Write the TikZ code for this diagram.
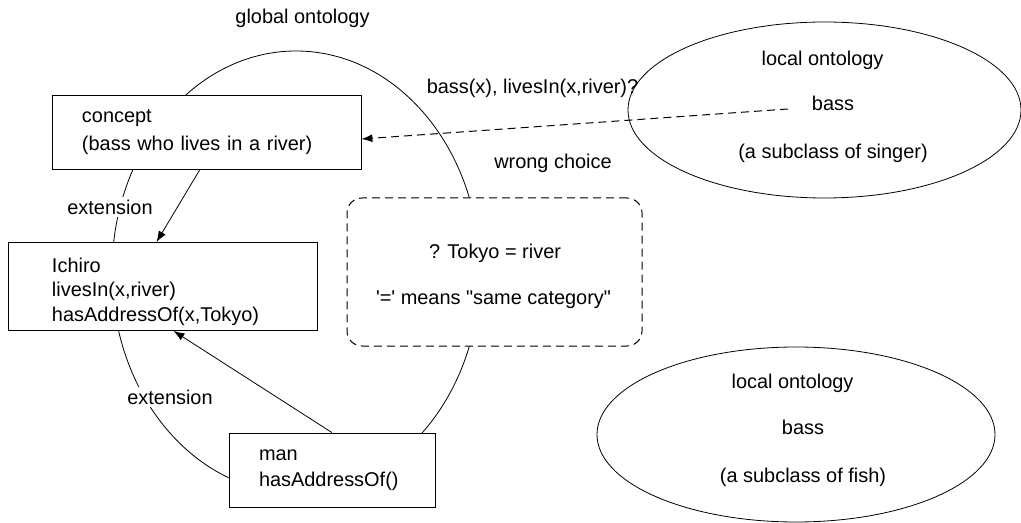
\documentclass[tikz,border=0pt]{standalone}
\usepackage{fontspec}
\setmainfont{Liberation Sans}[Ligatures=TeXOff]
\usetikzlibrary{arrows.meta}
\begin{document}
\begin{tikzpicture}[x=1bp,y=-1bp,line width=0.8bp,
  txt/.style={font=\fontsize{20}{25}\selectfont,inner sep=0pt},
  boxnode/.style={draw,fill=white,rectangle,align=left,inner ysep=0pt,font=\fontsize{20}{25}\selectfont},
  lbl/.style={font=\fontsize{20}{25}\selectfont,fill=white,inner sep=3bp},
  arr/.style={-{Latex[length=11bp,width=8bp]}},
  dsh/.style={dash pattern=on 8bp off 5bp,line width=1bp}]
\useasboundingbox (0,0) rectangle (1021,523);
% global ontology ellipse
\draw (296,272) ellipse [x radius=184bp, y radius=221bp];
\node[txt] (glob) at (302.5,18) {global ontology};
% local ontologies
\draw (824.5,110) ellipse [x radius=196.5bp, y radius=88bp];
\node[txt] (lo1) at (822.5,60) {local ontology};
\node[txt] (bass1) at (833,103) {bass};
\node[txt] (sub1) at (833,153) {(a subclass of singer)};
\draw (796,434.5) ellipse [x radius=199bp, y radius=87.5bp];
\node[txt] (lo2) at (792.5,383) {local ontology};
\node[txt] (bass2) at (803,427) {bass};
\node[txt] (sub2) at (803,477) {(a subclass of fish)};
% boxes
\node[boxnode,font=\fontsize{20}{28}\selectfont,minimum width=309bp,minimum height=74bp,inner xsep=30bp,text width=249bp] (concept) at (206.5,132)
  {concept\\(bass who lives in a river)};
\node[boxnode,minimum width=309bp,minimum height=88bp,inner xsep=44bp,text width=221bp,text height=25bp] (ichiro) at (162.5,286.5)
  {Ichiro\\livesIn(x,river)\\hasAddressOf(x,Tokyo)};
\node[boxnode,font=\fontsize{20}{26}\selectfont,minimum width=206bp,minimum height=74bp,inner xsep=30bp,text width=146bp] (man) at (332,470)
  {man\\hasAddressOf()};
% dashed rounded box
\node[draw,fill=white,dsh,rounded corners=15bp,minimum width=295bp,minimum height=148bp,inner sep=0pt] (wrong) at (494.5,272) {};
\node[txt] (tokyo) at (495,253) {? Tokyo = river};
\node[txt] (means) at (493.5,300) {'=' means "same category"};
\node[txt] (wc) at (553,163) {wrong choice};
\node[txt] (query) at (532.5,88) {bass(x), livesIn(x,river)?};
% extension labels
\node[lbl] (ext1) at (110,207) {extension};
\node[lbl] (ext2) at (170,397) {extension};
% arrows
\coordinate (qstart) at (788,109);
\draw[arr,dsh] (qstart) -- ([yshift=-7bp]concept.east);
\draw[arr] ([xshift=-6.5bp]concept.south) -- ([xshift=-6bp]ichiro.north);
\draw[arr] (man.north) -- ([xshift=11bp]ichiro.south);
\end{tikzpicture}
\end{document}
